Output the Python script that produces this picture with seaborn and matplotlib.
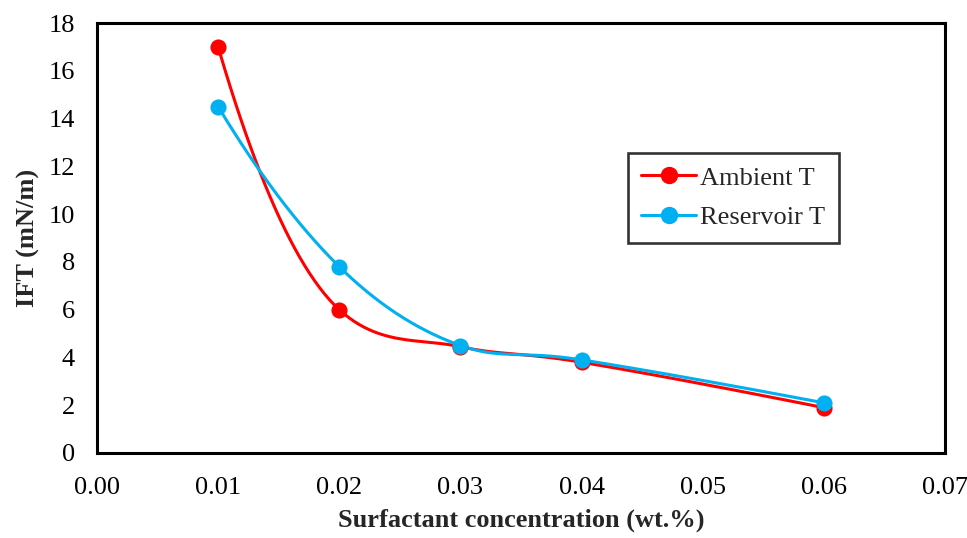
import numpy as np
import matplotlib
matplotlib.use('Agg')
import matplotlib.pyplot as plt
import seaborn as sns
from matplotlib.lines import Line2D

# data
conc = [0.01, 0.02, 0.03, 0.04, 0.06]
ift_ambient = [17.0, 6.0, 4.45, 3.8, 1.9]
ift_reservoir = [14.5, 7.8, 4.5, 3.9, 2.1]
series_names = ['Ambient T', 'Reservoir T']
series_colors = ['#ff0000', '#00b0f0']
xticks = [0.00, 0.01, 0.02, 0.03, 0.04, 0.05, 0.06, 0.07]
yticks = list(range(0, 19, 2))


def smooth(x, y, n=50):
    # smoothed line like excel: cubic bezier through the points,
    # catmull-rom tangents with a no-overshoot limit, parabolic ends
    p = np.column_stack([x, y]).astype(float)
    k = len(p)
    tg = np.zeros_like(p)
    for i in range(1, k - 1):
        tg[i] = (p[i + 1] - p[i - 1]) / 2
        for j in (i - 1, i + 1):
            dy = (p[j, 1] - p[i, 1]) / abs(p[j, 0] - p[i, 0]) * tg[i, 0]
            lim = 3 * abs(dy)
            if abs(tg[i, 1]) > lim:
                tg[i, 1] = np.sign(tg[i, 1]) * lim
    tg[0] = 2 * (p[1] - p[0]) - tg[1]
    tg[-1] = 2 * (p[-1] - p[-2]) - tg[-2]
    t = np.linspace(0, 1, n)[:, None]
    pts = []
    for i in range(k - 1):
        b0, b3 = p[i], p[i + 1]
        b1 = b0 + tg[i] / 3
        b2 = b3 - tg[i + 1] / 3
        seg = (1 - t) ** 3 * b0 + 3 * (1 - t) ** 2 * t * b1 + 3 * (1 - t) * t ** 2 * b2 + t ** 3 * b3
        pts.append(seg)
    pts = np.vstack(pts)
    return pts[:, 0], pts[:, 1]


sns.set_style('white')
plt.rcParams['font.family'] = ['Liberation Serif', 'DejaVu Serif']

fig, ax = plt.subplots(figsize=(9.67, 5.38), dpi=100)
fig.subplots_adjust(left=0.1003, right=0.9772, top=0.9572, bottom=0.158)

for name, vals, col in zip(series_names, [ift_ambient, ift_reservoir], series_colors):
    sx, sy = smooth(conc, vals)
    sns.lineplot(x=sx, y=sy, sort=False, color=col, lw=2.2, ax=ax)
    sns.scatterplot(x=conc, y=vals, color=col, s=135, linewidth=0, ax=ax, zorder=3)

handles = [Line2D([], [], color=c, lw=2.2, marker='o', markersize=11.5) for c in series_colors]
leg = ax.legend(handles, series_names, loc='upper left', bbox_to_anchor=(0.626, 0.698),
                fontsize=19, frameon=True, fancybox=False, edgecolor='black',
                handlelength=2.1, borderpad=0.5, labelspacing=0.62, handletextpad=0.15,
                borderaxespad=0)
leg.get_frame().set_linewidth(1.9)

ax.set_xlim(0, 0.07)
ax.set_ylim(0, 18)
ax.set_xticks(xticks)
ax.set_xticklabels([f'{v:.2f}' for v in xticks])
ax.set_yticks(yticks)
ax.tick_params(direction='out', length=6, width=1.6, labelsize=19, colors='black', pad=10)
ax.tick_params(axis='x', pad=11)
for sp in ax.spines.values():
    sp.set_visible(True)
    sp.set_color('black')
    sp.set_linewidth(2.2)

ax.set_xlabel('Surfactant concentration (wt.%)', fontsize=19, fontweight='bold', labelpad=7)
ax.set_ylabel('IFT (mN/m)', fontsize=19, fontweight='bold', labelpad=6)

fig.savefig('out.png', dpi=100)
